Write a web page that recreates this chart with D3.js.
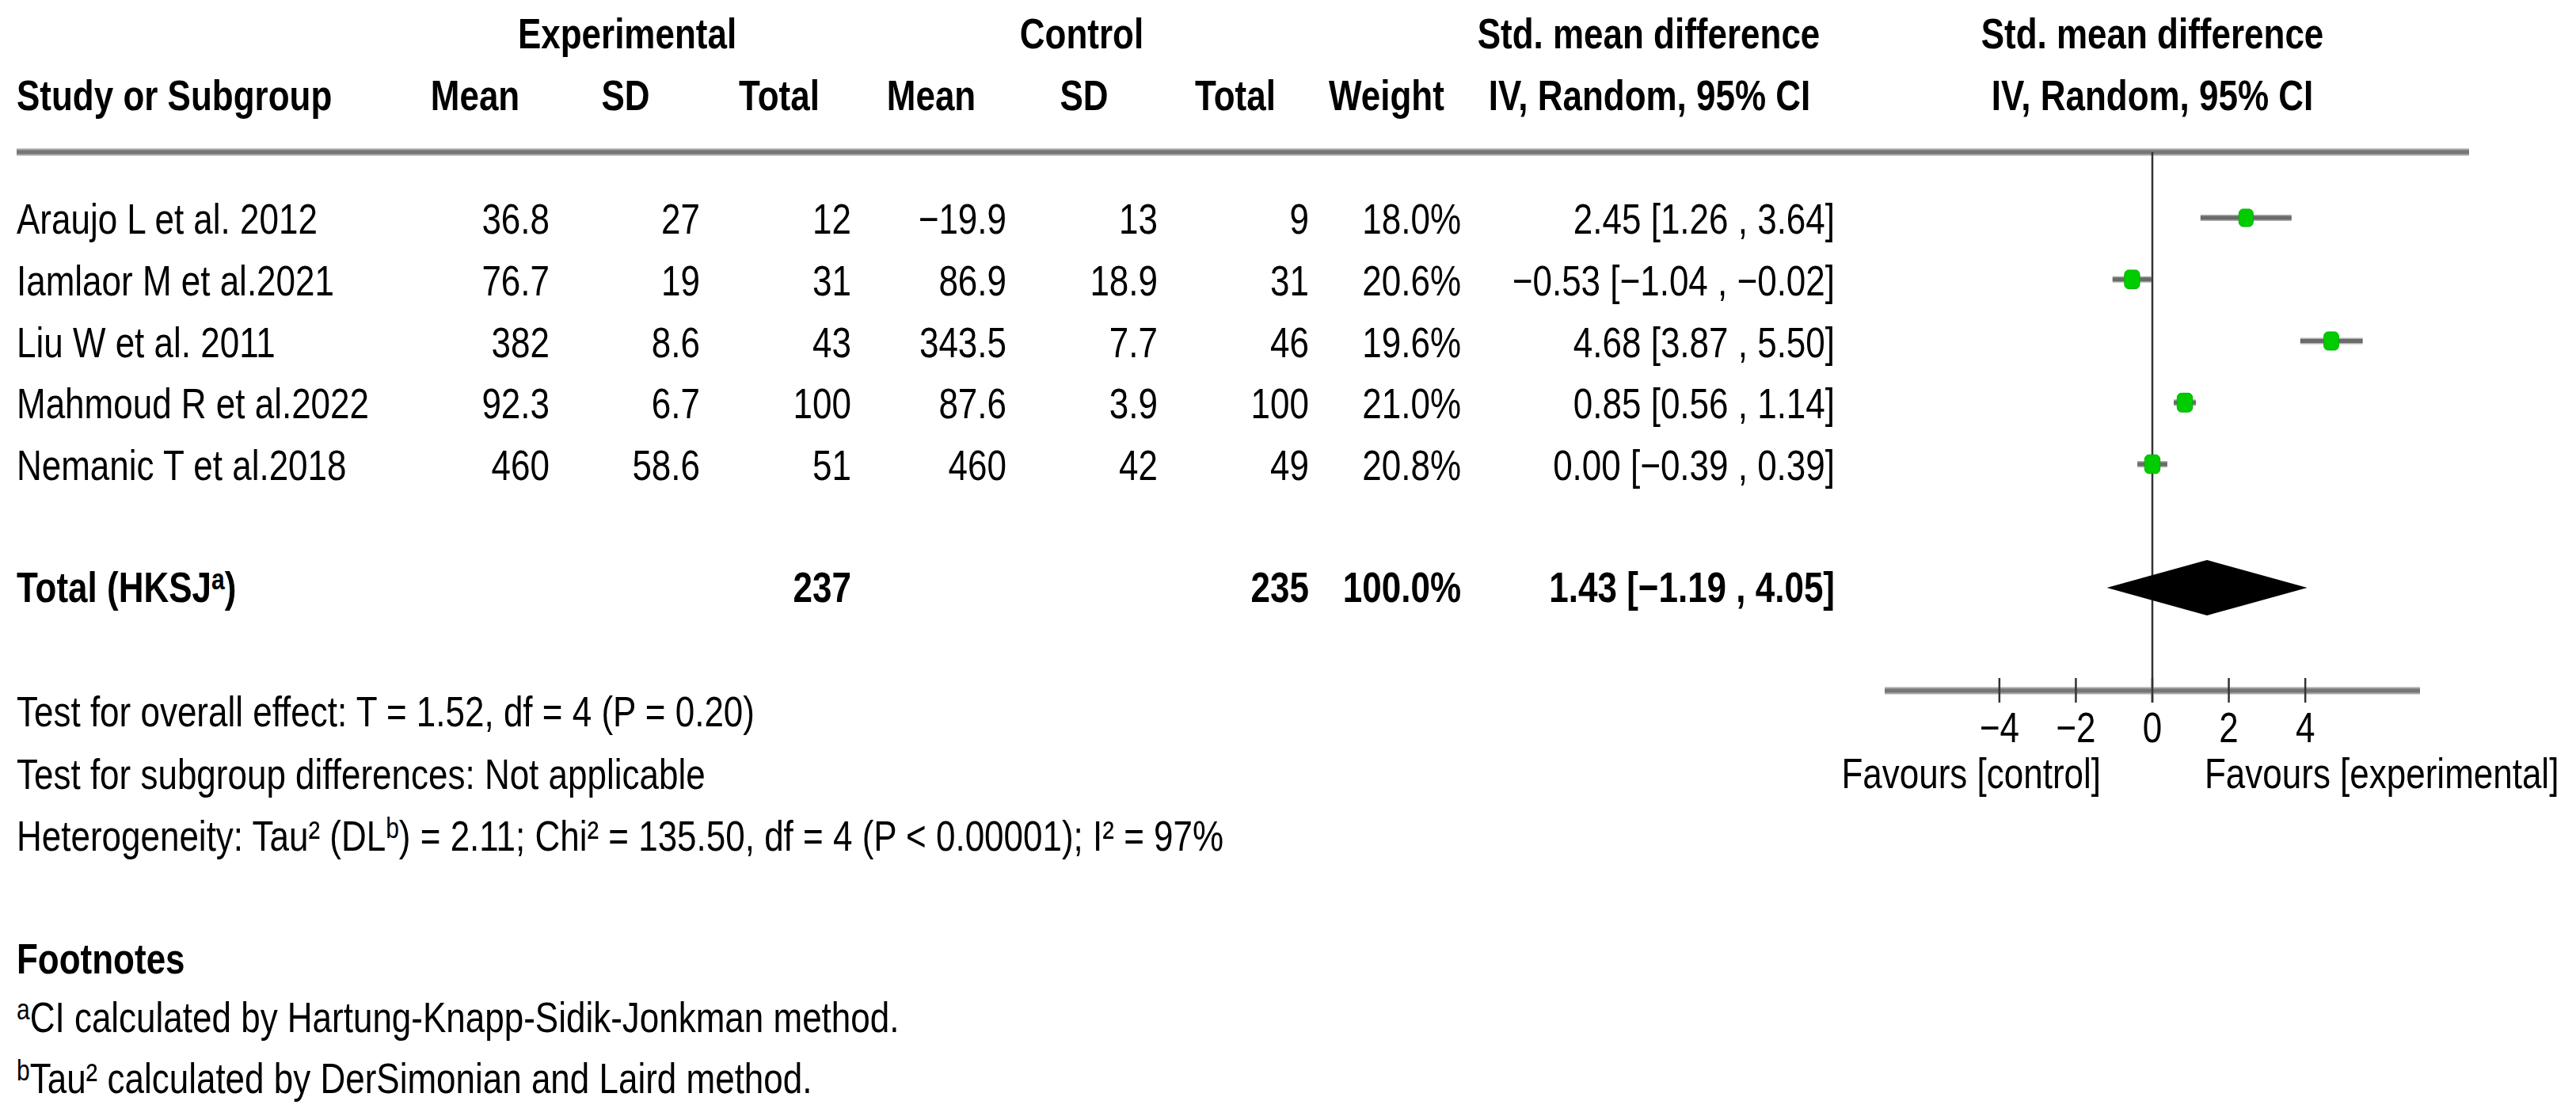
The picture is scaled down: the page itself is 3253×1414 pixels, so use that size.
<!DOCTYPE html>
<html>
<head>
<meta charset="utf-8">
<script src="https://cdn.jsdelivr.net/npm/d3@7"></script>
<style>
  html, body { margin: 0; padding: 0; background: #fff; }
  svg { display: block; }
  text { font-family: "Liberation Sans", Arial, Helvetica, sans-serif; fill: #000; }
</style>
</head>
<body>
<svg id="chart"></svg>
<script>
// study data
const studies = ['Araujo L et al. 2012', 'Iamlaor M et al.2021', 'Liu W et al. 2011', 'Mahmoud R et al.2022', 'Nemanic T et al.2018'];
const expMean = [36.8, 76.7, 382, 92.3, 460];
const expSD = [27, 19, 8.6, 6.7, 58.6];
const expTotal = [12, 31, 43, 100, 51];
const ctrlMean = [-19.9, 86.9, 343.5, 87.6, 460];
const ctrlSD = [13, 18.9, 7.7, 3.9, 42];
const ctrlTotal = [9, 31, 46, 100, 49];
const weights = [18.0, 20.6, 19.6, 21.0, 20.8];
const smd = [2.45, -0.53, 4.68, 0.85, 0.00];
const ciLow = [1.26, -1.04, 3.87, 0.56, -0.39];
const ciHigh = [3.64, -0.02, 5.50, 1.14, 0.39];

// pooled result
const pooled = { est: 1.43, lo: -1.19, hi: 4.05, expN: 237, ctrlN: 235, weight: 100.0 };
const axisTicks = [-4, -2, 0, 2, 4];

const W = 3253, H = 1414;
const SY = 1.22;   // the picture is stretched vertically
const FS = 44;

const svg = d3.select('#chart').attr('width', W).attr('height', H);
svg.append('rect').attr('width', W).attr('height', H).attr('fill', '#fff');

const fmtNum = v => String(v).replace('-', '\u2212');
const fmt2 = v => v.toFixed(2).replace('-', '\u2212');
const ciText = (e, l, h) => `${fmt2(e)} [${fmt2(l)} , ${fmt2(h)}]`;

function addText(x, y, str, anchor = 'start', weight = 'normal') {
    return svg.append('text')
        .attr('transform', `translate(${x},${y}) scale(1,${SY})`)
        .attr('text-anchor', anchor)
        .style('font-size', FS + 'px')
        .style('font-weight', weight)
        .text(str);
}

// text with a superscript piece: parts = [[text, isSup], ...]
function addRich(x, y, parts, weight = 'normal') {
    const t = svg.append('text')
        .attr('transform', `translate(${x},${y}) scale(1,${SY})`)
        .style('font-size', FS + 'px')
        .style('font-weight', weight);
    let up = false;
    parts.forEach(([s, sup]) => {
        const ts = t.append('tspan').text(s);
        if (sup && !up) { ts.attr('dy', -13).style('font-size', '30px'); up = true; }
        else if (sup) { ts.style('font-size', '30px'); }
        else if (up) { ts.attr('dy', 13); up = false; }
    });
    return t;
}

// scales
const x = d3.scaleLinear().domain([-7, 7]).range([2380, 3056]);
const rowY = d3.scaleLinear().domain([0, studies.length - 1]).range([295, 606]);
const boxSize = d3.scaleSqrt().domain([0, 21]).range([0, 19.5]);

// headers
const h1 = 61, h2 = 139;
addText(792, h1, 'Experimental', 'middle', 'bold');
addText(1366, h1, 'Control', 'middle', 'bold');
addText(2082, h1, 'Std. mean difference', 'middle', 'bold');
addText(2718, h1, 'Std. mean difference', 'middle', 'bold');

addText(21, h2, 'Study or Subgroup', 'start', 'bold');
[['Mean', 600], ['SD', 790], ['Total', 984], ['Mean', 1176], ['SD', 1369], ['Total', 1560], ['Weight', 1751]]
    .forEach(([s, cx]) => addText(cx, h2, s, 'middle', 'bold'));
addText(2083, h2, 'IV, Random, 95% CI', 'middle', 'bold');
addText(2718, h2, 'IV, Random, 95% CI', 'middle', 'bold');

// header rule
const rule = svg.append('g');
rule.append('line').attr('x1', 21).attr('x2', 3118).attr('y1', 192).attr('y2', 192)
    .attr('stroke', '#a8a8a8').attr('stroke-width', 9);
rule.append('line').attr('x1', 21).attr('x2', 3118).attr('y1', 192).attr('y2', 192)
    .attr('stroke', '#767676').attr('stroke-width', 5);

// table columns (right aligned)
const colRight = { expMean: 694, expSD: 884, expTotal: 1075, ctrlMean: 1271, ctrlSD: 1462, ctrlTotal: 1653, weight: 1845, ci: 2317 };

studies.forEach((s, i) => {
    const y = rowY(i);
    addText(21, y, s);
    addText(colRight.expMean, y, fmtNum(expMean[i]), 'end');
    addText(colRight.expSD, y, fmtNum(expSD[i]), 'end');
    addText(colRight.expTotal, y, fmtNum(expTotal[i]), 'end');
    addText(colRight.ctrlMean, y, fmtNum(ctrlMean[i]), 'end');
    addText(colRight.ctrlSD, y, fmtNum(ctrlSD[i]), 'end');
    addText(colRight.ctrlTotal, y, fmtNum(ctrlTotal[i]), 'end');
    addText(colRight.weight, y, weights[i].toFixed(1) + '%', 'end');
    addText(colRight.ci, y, ciText(smd[i], ciLow[i], ciHigh[i]), 'end');
});

// total row
const totalY = 760;
addRich(21, totalY, [['Total (HKSJ', false], ['a', true], [')', false]], 'bold');
addText(colRight.expTotal, totalY, String(pooled.expN), 'end', 'bold');
addText(colRight.ctrlTotal, totalY, String(pooled.ctrlN), 'end', 'bold');
addText(colRight.weight, totalY, pooled.weight.toFixed(1) + '%', 'end', 'bold');
addText(colRight.ci, totalY, ciText(pooled.est, pooled.lo, pooled.hi), 'end', 'bold');

// plot: zero line
const axisY = 872;
svg.append('line').attr('x1', x(0)).attr('x2', x(0)).attr('y1', 192).attr('y2', axisY + 15)
    .attr('stroke', '#333').attr('stroke-width', 2.5);

// confidence intervals
const ci = svg.append('g');
studies.forEach((s, i) => {
    const cy = rowY(i) - 20;
    ci.append('line').attr('x1', x(ciLow[i])).attr('x2', x(ciHigh[i])).attr('y1', cy).attr('y2', cy)
        .attr('stroke', '#b0b0b0').attr('stroke-width', 8);
    ci.append('line').attr('x1', x(ciLow[i])).attr('x2', x(ciHigh[i])).attr('y1', cy).attr('y2', cy)
        .attr('stroke', '#6a6a6a').attr('stroke-width', 5);
    const w = boxSize(weights[i]);
    ci.append('rect')
        .attr('x', x(smd[i]) - w / 2).attr('y', cy - w * SY / 2)
        .attr('width', w).attr('height', w * SY)
        .attr('rx', 5).attr('ry', 6)
        .attr('fill', '#00cc00').attr('stroke', '#00b300').attr('stroke-width', 1);
});

// pooled diamond
const dy = totalY - 18;
svg.append('polygon')
    .attr('points', [[x(pooled.lo), dy], [x(pooled.est), dy - 35], [x(pooled.hi), dy], [x(pooled.est), dy + 35]].map(p => p.join(',')).join(' '))
    .attr('fill', '#000');

// axis
const ax = svg.append('g');
ax.append('line').attr('x1', x(-7)).attr('x2', x(7)).attr('y1', axisY).attr('y2', axisY)
    .attr('stroke', '#a8a8a8').attr('stroke-width', 9);
ax.append('line').attr('x1', x(-7)).attr('x2', x(7)).attr('y1', axisY).attr('y2', axisY)
    .attr('stroke', '#767676').attr('stroke-width', 5);
ax.selectAll('line.tick')
    .data(axisTicks)
    .enter()
    .append('line')
    .attr('class', 'tick')
    .attr('x1', d => x(d)).attr('x2', d => x(d))
    .attr('y1', axisY - 16).attr('y2', axisY + 15)
    .attr('stroke', '#333').attr('stroke-width', 2.5);
axisTicks.forEach(d => addText(x(d), 937, fmtNum(d), 'middle'));

addText(x(0) - 65, 995, 'Favours [control]', 'end');
addText(x(0) + 66, 995, 'Favours [experimental]', 'start');

// tests
addText(21, 917, 'Test for overall effect: T = 1.52, df = 4 (P = 0.20)');
addText(21, 996, 'Test for subgroup differences: Not applicable');
addRich(21, 1074, [['Heterogeneity: Tau\u00b2 (DL', false], ['b', true], [') = 2.11; Chi\u00b2 = 135.50, df = 4 (P < 0.00001); I\u00b2 = 97%', false]]);

// footnotes
addText(21, 1229, 'Footnotes', 'start', 'bold');
addRich(21, 1303, [['a', true], ['CI calculated by Hartung-Knapp-Sidik-Jonkman method.', false]]);
addRich(21, 1380, [['b', true], ['Tau\u00b2 calculated by DerSimonian and Laird method.', false]]);
</script>
</body>
</html>
